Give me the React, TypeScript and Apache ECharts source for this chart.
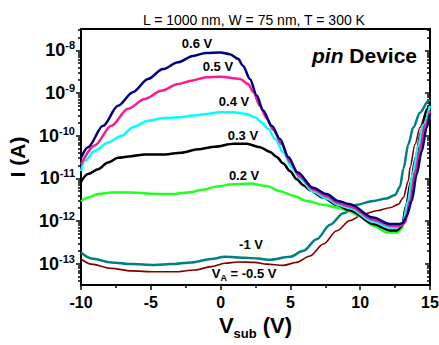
import React, { useEffect, useRef } from "react";
import * as echarts from "echarts";

const FONT = '"Liberation Sans", Arial, Helvetica, sans-serif';

// Substrate voltage V_sub (V) and log10 of drain current I (A) for each anode bias V_A
const vsub06 = [-10, -9.5, -8.42, -7.35, -6.28, -5.2, -4.13, -3.05, -1.98, -1.05, -0.04, 0.67, 1.25, 1.6, 2.1, 2.59, 3.04, 3.66, 4.26, 4.85, 5.5, 6.62, 7.6, 8.41, 9.27, 10.92, 12.13, 12.85, 13.07, 13.33, 13.69, 14.05, 14.41, 14.76, 15];
const logI06 = [-10.52, -10.27, -9.77, -9.3, -8.98, -8.67, -8.44, -8.28, -8.13, -8.06, -8.05, -8.09, -8.2, -8.36, -8.67, -9.06, -9.41, -9.77, -10.08, -10.5, -10.86, -11.22, -11.37, -11.53, -11.61, -11.92, -12.07, -12.07, -12.04, -11.88, -11.53, -10.9, -10.36, -9.81, -9.49];

const vsub05 = [-10, -9.02, -7.83, -6.63, -5.44, -4.25, -3.05, -2.1, -1.02, -0.04, 1.39, 1.98, 2.34, 2.82, 3.3, 3.78, 4.38, 4.97, 5.69, 6.62, 7.6, 8.41, 9.27, 10.92, 12.13, 12.85, 13.21, 13.57, 13.93, 14.28, 14.64, 15];
const logI05 = [-10.67, -10.23, -9.77, -9.37, -9.14, -8.95, -8.79, -8.71, -8.63, -8.62, -8.67, -8.79, -8.98, -9.3, -9.59, -9.87, -10.2, -10.62, -10.96, -11.26, -11.42, -11.58, -11.66, -11.97, -12.11, -12.12, -12.04, -11.53, -10.87, -10.31, -9.75, -9.42];

const vsub04 = [-10, -9.73, -9.02, -8.07, -7.11, -6.28, -5.2, -4.13, -3.05, -1.98, -1.02, -0.04, 0.91, 1.87, 2.46, 2.94, 3.42, 3.9, 4.49, 5.09, 5.69, 6.62, 7.6, 8.41, 9.27, 10.92, 12.13, 12.64, 13.07, 13.42, 13.78, 14.14, 14.5, 15];
const logI04 = [-10.83, -10.59, -10.36, -10.16, -10.01, -9.8, -9.65, -9.59, -9.57, -9.53, -9.49, -9.45, -9.45, -9.49, -9.57, -9.69, -9.84, -10.08, -10.39, -10.74, -11.01, -11.31, -11.47, -11.62, -11.7, -12.02, -12.16, -12.16, -12.04, -11.53, -10.87, -10.26, -9.75, -9.3];

const vsub03 = [-10, -9.5, -8.78, -8.07, -7.35, -6.4, -5.44, -4.0, -2.82, -1.62, -0.42, 0.91, 1.87, 2.82, 3.54, 4.02, 4.49, 4.97, 5.45, 5.93, 6.41, 7.36, 8.32, 9.27, 10.92, 12.13, 12.64, 13.0, 13.28, 13.64, 14.0, 14.36, 14.79, 15];
const logI03 = [-11.08, -10.9, -10.79, -10.63, -10.52, -10.48, -10.44, -10.44, -10.4, -10.32, -10.26, -10.19, -10.19, -10.27, -10.38, -10.5, -10.65, -10.83, -11.02, -11.16, -11.28, -11.45, -11.62, -11.75, -12.07, -12.22, -12.22, -12.11, -11.65, -11.06, -10.48, -9.91, -9.37, -9.28];

const vsub02 = [-10, -9.5, -8.78, -7.83, -6.4, -4.96, -3.53, -2.34, -1.14, -0.28, 0.91, 2.11, 3.3, 4.26, 5.21, 6.17, 7.36, 8.43, 9.03, 9.99, 10.94, 11.9, 12.62, 12.97, 13.21, 13.57, 14.05, 14.41, 14.76, 15];
const logI02 = [-11.54, -11.45, -11.37, -11.33, -11.33, -11.36, -11.37, -11.33, -11.26, -11.19, -11.14, -11.12, -11.18, -11.3, -11.41, -11.53, -11.62, -11.69, -11.75, -11.88, -12.11, -12.27, -12.27, -12.19, -11.95, -11.37, -10.75, -10.2, -9.73, -9.54];

const vsubM1 = [-10, -9.26, -7.83, -6.4, -4.72, -3.53, -2.1, -0.67, 0.29, 1.73, 2.68, 3.54, 4.97, 5.92, 6.88, 7.84, 8.79, 9.75, 10.94, 11.9, 12.49, 12.85, 13.09, 13.45, 13.8, 14.28, 14.88, 15];
const logIM1 = [-12.74, -12.88, -12.97, -13.01, -13.03, -13.01, -12.97, -12.89, -12.84, -12.86, -12.88, -12.91, -12.84, -12.7, -12.43, -12.09, -11.82, -11.62, -11.53, -11.47, -11.39, -11.2, -10.78, -10.2, -9.81, -9.46, -9.19, -9.16];

const vsubM05 = [-10, -9.26, -7.83, -6.4, -4.72, -3.29, -1.86, -0.67, 0.29, 1.25, 2.44, 3.3, 4.49, 5.45, 6.4, 7.36, 8.32, 9.27, 10.22, 11.18, 12.13, 12.73, 13.09, 13.45, 13.57, 13.93, 14.28, 14.76, 15];
const logIM05 = [-12.89, -13.01, -13.11, -13.17, -13.19, -13.19, -13.15, -13.07, -12.99, -12.96, -12.97, -13.01, -13.04, -12.97, -12.82, -12.54, -12.23, -11.99, -11.84, -11.76, -11.69, -11.61, -11.45, -11.06, -10.75, -10.2, -9.81, -9.42, -9.28];

// Axis ticks (log10 of current)
const yDecades = [-13, -12, -11, -10, -9, -8];
const yMinorTicks: number[] = [];
for (let n = -14; n <= -8; n++) {
  for (let k = 2; k <= 9; k++) {
    const v = n + Math.log10(k);
    if (v > -13.5 && v < -7.5) yMinorTicks.push(v);
  }
}

// Curve label texts and their anchor points [V_sub, log10 I]
const curveLabels = ["0.6 V", "0.5 V", "0.4 V", "0.3 V", "0.2 V", "-1 V", "{n|V}{sub|A}{n| = -0.5 V}"];
const curveLabelAnchors = [
  [-1.69, -7.83],
  [-0.19, -8.39],
  [0.96, -9.19],
  [1.6, -10.0],
  [1.68, -10.94],
  [2.18, -12.54],
  [1.68, -13.24],
];

const zip = (xs: number[], ys: number[]) => xs.map((x, i) => [x, ys[i]]);

export default function App() {
  const ref = useRef<HTMLDivElement>(null);

  useEffect(() => {
    if (!ref.current) return;
    const chart = echarts.init(ref.current, null, { renderer: "svg" });

    const labelStyle = {
      fontFamily: FONT,
      fontSize: 13,
      fontWeight: "bold" as const,
      color: "#000",
    };

    const makeSeries = (
      idx: number,
      xs: number[],
      ys: number[],
      color: string,
      width: number
    ) => ({
      type: "line",
      name: curveLabels[idx],
      data: zip(xs, ys),
      xAxisIndex: 0,
      yAxisIndex: 0,
      showSymbol: false,
      symbol: "none",
      smooth: 0.3,
      smoothMonotone: "x",
      lineStyle: { color, width },
      silent: true,
      markPoint: {
        symbol: "circle",
        symbolSize: 0,
        silent: true,
        data: [
          {
            coord: curveLabelAnchors[idx],
            label: {
              show: true,
              position: "inside",
              formatter: curveLabels[idx],
              ...labelStyle,
              rich: {
                n: { ...labelStyle },
                sub: { ...labelStyle, fontSize: 9, padding: [9, 0, 0, 0] },
              },
            },
          },
        ],
      },
    });

    const axisLineStyle = { color: "#000", width: 2 };
    const tickStyle = { color: "#000", width: 1.5 };

    const option = {
      animation: false,
      backgroundColor: "#ffffff",
      title: [
        {
          text: "L = 1000 nm, W = 75 nm, T = 300 K",
          left: 138,
          top: 8,
          textStyle: { fontFamily: FONT, fontSize: 14, fontWeight: "normal", color: "#000" },
        },
        {
          text: "{i|pin}{n| Device}",
          left: 307,
          top: 40,
          textStyle: {
            fontFamily: FONT,
            fontSize: 21,
            color: "#000",
            rich: {
              i: { fontFamily: FONT, fontSize: 21, fontStyle: "italic", color: "#000" },
              n: { fontFamily: FONT, fontSize: 21, color: "#000" },
            },
          },
        },
      ],
      grid: { left: 81, right: 9, top: 29, bottom: 60, containLabel: false, outerBoundsMode: "none" },
      xAxis: [
        {
          type: "value",
          position: "bottom",
          min: -10,
          max: 15,
          interval: 5,
          axisLine: { onZero: false, lineStyle: axisLineStyle },
          axisTick: { show: true, inside: false, length: 5, lineStyle: tickStyle },
          minorTick: { show: true, splitNumber: 2, length: 3, lineStyle: tickStyle },
          splitLine: { show: false },
          minorSplitLine: { show: false },
          axisLabel: { fontFamily: FONT, fontSize: 16, fontWeight: "bold", color: "#000", margin: 9 },
          name: "{v|V}{s|sub}{v| (V)}",
          nameLocation: "middle",
          nameGap: 26,
          nameTextStyle: {
            color: "#000",
            rich: {
              v: { fontFamily: FONT, fontSize: 22, fontWeight: "bold", color: "#000" },
              s: { fontFamily: FONT, fontSize: 13, fontWeight: "bold", color: "#000", padding: [16, 0, 0, 0] },
            },
          },
        },
        {
          type: "value",
          position: "top",
          min: -10,
          max: 15,
          axisLine: { onZero: false, lineStyle: axisLineStyle },
          axisTick: { show: false },
          axisLabel: { show: false },
          splitLine: { show: false },
        },
      ],
      yAxis: [
        {
          type: "value",
          position: "left",
          min: -13.5,
          max: -7.5,
          axisLine: { onZero: false, lineStyle: axisLineStyle },
          axisTick: { show: true, inside: false, length: 5, customValues: yDecades, lineStyle: tickStyle },
          splitLine: { show: false },
          axisLabel: {
            customValues: yDecades,
            margin: 6,
            formatter: (v: number) => `{b|10}{s|${Math.round(v)}}`,
            rich: {
              b: { fontFamily: FONT, fontSize: 18, fontWeight: "bold", color: "#000" },
              s: { fontFamily: FONT, fontSize: 11, fontWeight: "bold", color: "#000", padding: [0, 0, 10, 0] },
            },
          },
          name: "I (A)",
          nameLocation: "middle",
          nameGap: 50,
          nameTextStyle: { fontFamily: FONT, fontSize: 21, fontWeight: "bold", color: "#000" },
        },
        {
          type: "value",
          position: "left",
          min: -13.5,
          max: -7.5,
          axisLine: { show: false, onZero: false },
          axisTick: { show: true, inside: false, length: 3, customValues: yMinorTicks, lineStyle: tickStyle },
          axisLabel: { show: false },
          splitLine: { show: false },
        },
        {
          type: "value",
          position: "right",
          min: -13.5,
          max: -7.5,
          axisLine: { onZero: false, lineStyle: axisLineStyle },
          axisTick: { show: true, inside: true, length: 5, customValues: yDecades, lineStyle: tickStyle },
          axisLabel: { show: false },
          splitLine: { show: false },
        },
        {
          type: "value",
          position: "right",
          min: -13.5,
          max: -7.5,
          axisLine: { show: false, onZero: false },
          axisTick: { show: true, inside: true, length: 3, customValues: yMinorTicks, lineStyle: tickStyle },
          axisLabel: { show: false },
          splitLine: { show: false },
        },
      ],
      series: [
        makeSeries(6, vsubM05, logIM05, "#800000", 1.6),
        makeSeries(5, vsubM1, logIM1, "#008080", 2.5),
        makeSeries(4, vsub02, logI02, "#22ff22", 2.5),
        makeSeries(3, vsub03, logI03, "#000000", 2.5),
        makeSeries(2, vsub04, logI04, "#00ffff", 2.5),
        makeSeries(1, vsub05, logI05, "#ff1a8c", 2.5),
        makeSeries(0, vsub06, logI06, "#000080", 2.5),
      ],
    };

    chart.setOption(option as any);
    return () => chart.dispose();
  }, []);

  return (
    <div
      ref={ref}
      style={{ position: "fixed", left: 0, top: 0, width: 439, height: 345, background: "#fff" }}
    />
  );
}
